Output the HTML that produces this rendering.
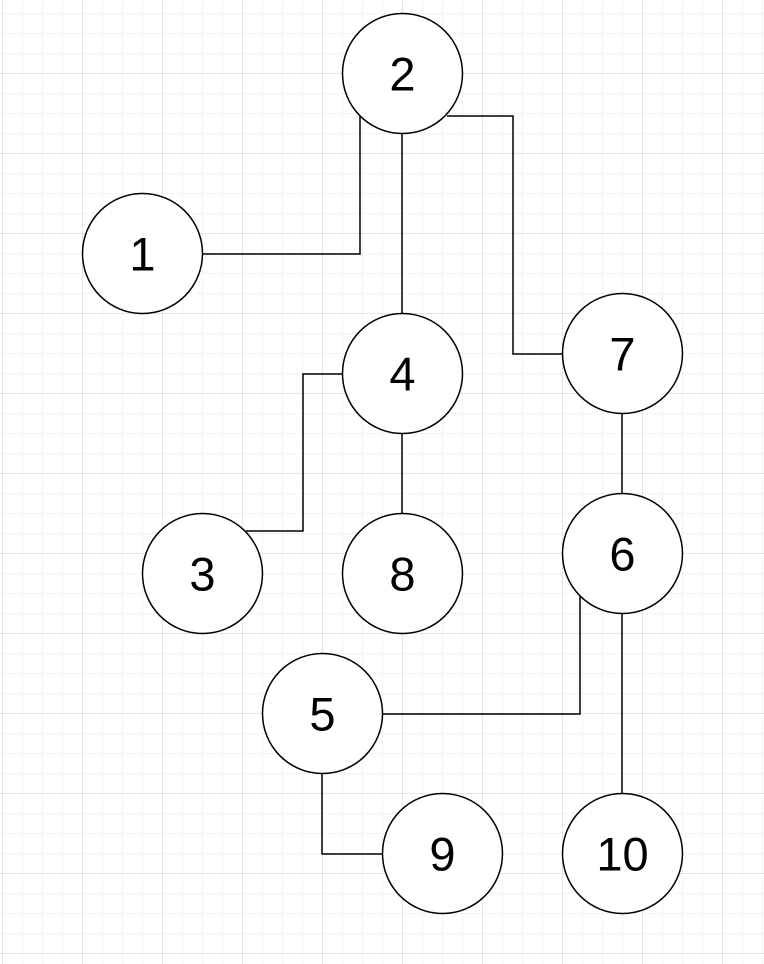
<!DOCTYPE html>
<html><head><meta charset="utf-8"><style>
html,body{margin:0;padding:0;background:#fff;}
svg{display:block;}
text{font-family:"Liberation Sans",Arial,sans-serif;font-size:47px;text-anchor:middle;dominant-baseline:central;fill:#000;}
</style></head><body>
<svg id="c" width="764" height="964">
<defs>
<pattern id="minor" x="2" y="13" width="20" height="20" patternUnits="userSpaceOnUse"><path d="M0 0H20M0 0V20" stroke="#eeeeee" stroke-width="1.3" fill="none"/></pattern>
<pattern id="major" x="2" y="-7" width="80" height="80" patternUnits="userSpaceOnUse"><path d="M0 0H80M0 0V80" stroke="#cfcfcf" stroke-width="1" fill="none"/></pattern>
</defs>
<rect width="764" height="964" fill="url(#minor)"/>
<rect width="764" height="964" fill="url(#major)"/>
<g id="edges" stroke="#000" stroke-width="1.5" fill="none"></g>
<g id="nodes"></g>
</svg>
<script>
const nodeIds=["1","2","3","4","5","6","7","8","9","10"];
const nodeX=[142,402,202,402,322,622,622,402,442,622];
const nodeY=[254,74,574,374,714,554,354,574,854,854];
const edgePaths=[
 "M202 254H360V114",
 "M402 134V314",
 "M447 116H513V354H562",
 "M342 374H303V531H246",
 "M402 434V514",
 "M622 414V494",
 "M580 596V714H382",
 "M622 614V794",
 "M322 774V854H382"
];
const edgeNames=["edge-1-2","edge-2-4","edge-2-7","edge-4-3","edge-4-8","edge-7-6","edge-6-5","edge-6-10","edge-5-9"];
const NS="http://www.w3.org/2000/svg";
const eg=document.getElementById('edges');
edgePaths.forEach((d,i)=>{
 const p=document.createElementNS(NS,'path');
 p.setAttribute('d',d);
 
 
 eg.appendChild(p);
});
const ng=document.getElementById('nodes');
nodeIds.forEach((id,i)=>{
 const g=document.createElementNS(NS,'g');
 
 
 const c=document.createElementNS(NS,'circle');
 c.setAttribute('cx',nodeX[i]+0.5);c.setAttribute('cy',nodeY[i]-0.5);c.setAttribute('r',60);
 c.setAttribute('fill','#fff');c.setAttribute('stroke','#000');c.setAttribute('stroke-width','1.5');
 
 
 const t=document.createElementNS(NS,'text');
 t.setAttribute('x',nodeX[i]+0.5);t.setAttribute('y',nodeY[i]);
 t.textContent=id;
 
 
 g.appendChild(c);g.appendChild(t);ng.appendChild(g);
});
</script>
</body></html>
